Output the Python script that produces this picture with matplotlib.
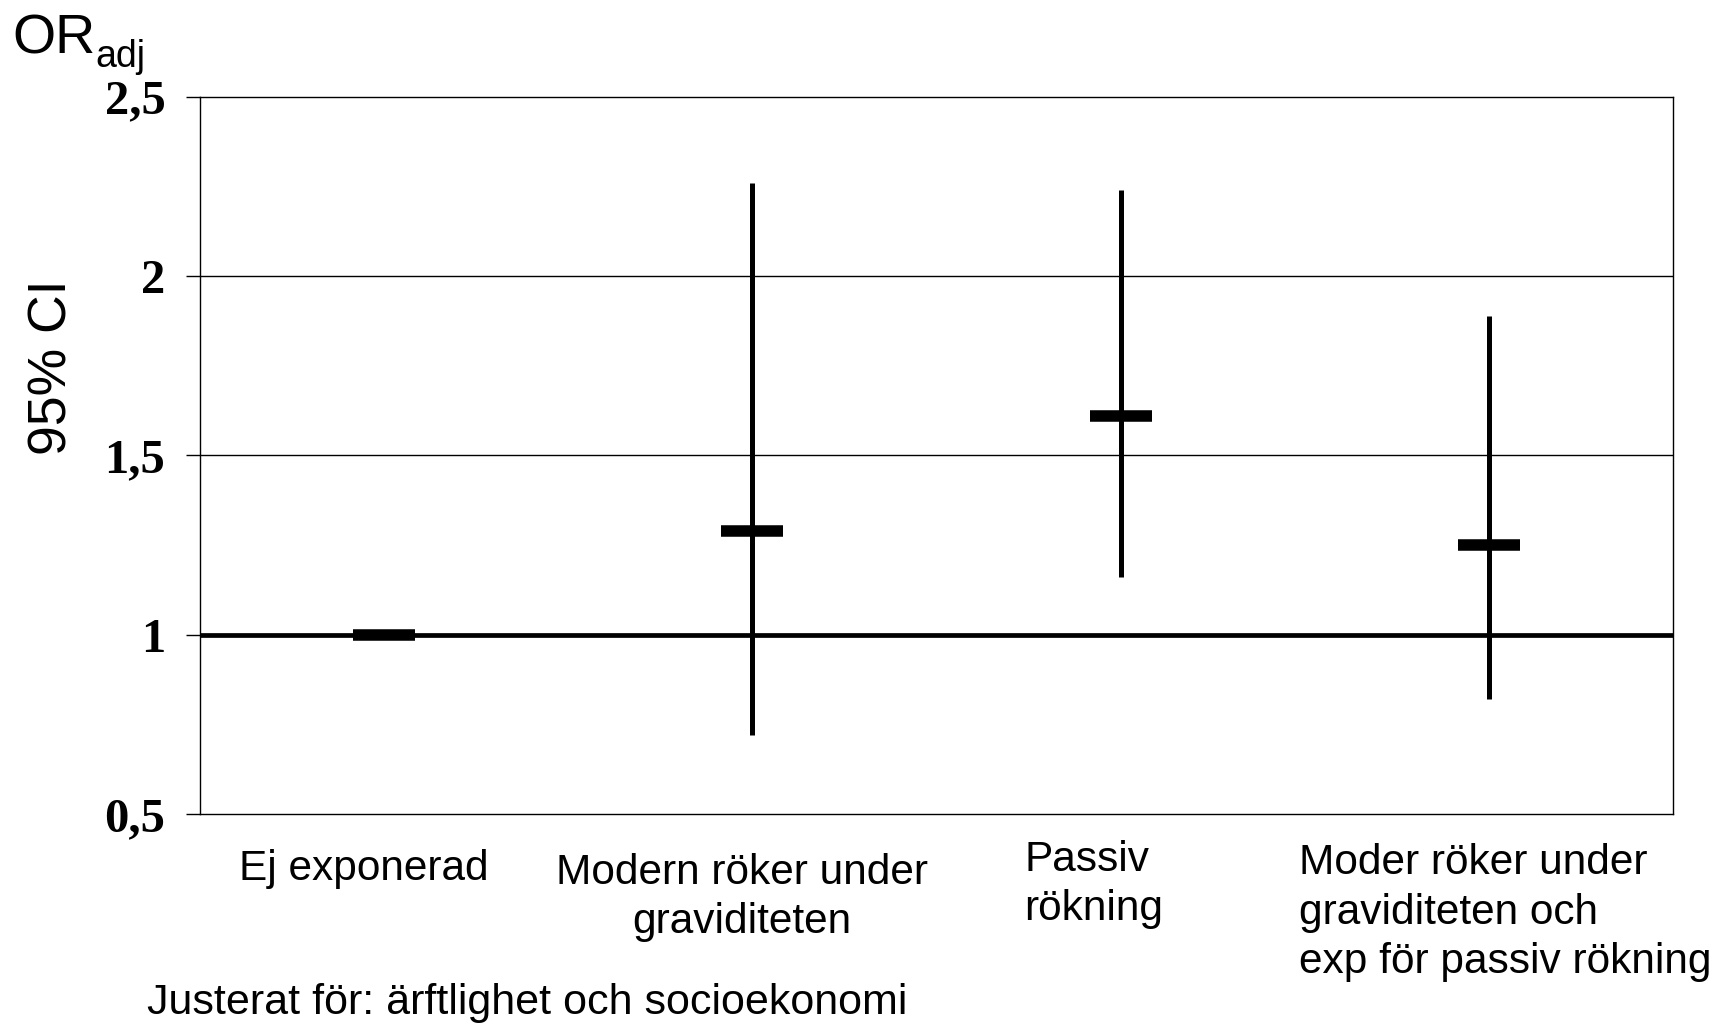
import matplotlib
matplotlib.use("Agg")
import matplotlib.pyplot as plt

# Data
categories = ["Ej exponerad", "Modern röker under\ngraviditeten", "Passiv\nrökning",
              "Moder röker under\ngraviditeten och\nexp för passiv rökning"]
or_adj = [1.00, 1.29, 1.61, 1.25]
ci_low = [1.00, 0.72, 1.16, 0.82]
ci_high = [1.00, 2.26, 2.24, 1.89]
yticks = [0.5, 1.0, 1.5, 2.0, 2.5]
ytick_labels = ["0,5", "1", "1,5", "2", "2,5"]

W, H = 1719, 1025
plt.rcParams["font.family"] = ["Liberation Sans", "DejaVu Sans"]

fig = plt.figure(figsize=(W / 100, H / 100), dpi=100)
ax = fig.add_axes([200 / W, 1 - 814.3 / H, 1473 / W, (814.3 - 96.7) / H])


def fx(p):
    return p / W


def fy(p):
    return 1 - p / H


x = list(range(len(categories)))

# reference line and grid
ax.axhline(1.0, color="black", lw=3.4, zorder=2)
for g in [1.5, 2.0]:
    ax.axhline(g, color="black", lw=1.0, zorder=1)

# confidence intervals and point estimates
ax.vlines(x, ci_low, ci_high, color="black", lw=3.6, zorder=3)
ax.plot(x, or_adj, linestyle="none", marker="_", markersize=44,
        markeredgewidth=8.3, color="black", zorder=4)

ax.set_xlim(-0.5, 3.5)
ax.set_ylim(0.5, 2.5)
ax.set_xticks([])
ax.set_yticks(yticks)
ax.set_yticklabels(ytick_labels, fontfamily="Liberation Serif", fontweight="bold", fontsize=35)
ax.tick_params(axis="y", direction="out", length=10, width=1.0, pad=15, color="black")
for s in ax.spines.values():
    s.set_linewidth(1.0)
    s.set_color("black")

# axis titles
fig.text(fx(12), fy(53), "OR", fontsize=40, ha="left", va="baseline")
fig.text(fx(95), fy(67), "adj", fontsize=27, ha="left", va="baseline")
fig.text(fx(52.5), fy(367), "95% CI", fontsize=38.5, rotation=90, ha="center", va="center")

# category labels (multi-line texts are anchored on their last baseline)
ls = 1.3
fig.text(fx(364), fy(880), categories[0], fontsize=30.5, ha="center", va="baseline")
fig.text(fx(742), fy(933), categories[1], fontsize=30.5, ha="center", va="baseline",
         multialignment="center", linespacing=ls)
fig.text(fx(1024), fy(920), categories[2], fontsize=30.5, ha="left", va="baseline",
         linespacing=ls)
fig.text(fx(1299), fy(973), categories[3], fontsize=30.5, ha="left", va="baseline",
         linespacing=ls)

fig.text(fx(147), fy(1014), "Justerat för: ärftlighet och socioekonomi", fontsize=31,
         ha="left", va="baseline")

fig.savefig("out.png", dpi=100)
